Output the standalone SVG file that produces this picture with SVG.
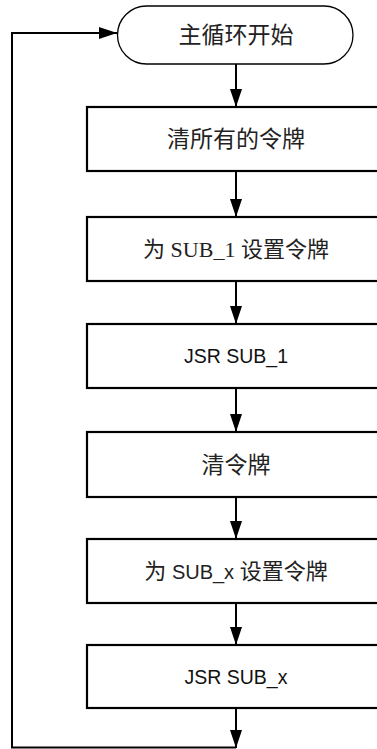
<svg xmlns="http://www.w3.org/2000/svg" width="377" height="749" viewBox="0 0 377 749">
<style>
.box{fill:#fff;stroke:#000;stroke-width:2.2}
.term{fill:#fff;stroke:#000;stroke-width:1.3}
.cjk{font-family:"Liberation Serif","Noto Sans CJK SC",serif;fill:#222;text-anchor:middle}
.lat{font-family:"Liberation Sans","Noto Sans CJK SC",sans-serif;fill:#111;text-anchor:middle}
.conn{fill:none;stroke:#000;stroke-width:2}
</style>
<defs>
<marker id="ah" viewBox="0 0 18 12" refX="18" refY="6" markerWidth="18" markerHeight="12" markerUnits="userSpaceOnUse" orient="auto">
<path d="M0,0 L18,6 L0,12 Z" fill="#000"/>
</marker>
</defs>
<rect width="377" height="749" fill="#fff"/>
<g id="connectors">
<line class="conn" x1="236" y1="64" x2="236" y2="107" marker-end="url(#ah)"/>
<line class="conn" x1="236" y1="171" x2="236" y2="217" marker-end="url(#ah)"/>
<line class="conn" x1="236" y1="281" x2="236" y2="324" marker-end="url(#ah)"/>
<line class="conn" x1="236" y1="388" x2="236" y2="432" marker-end="url(#ah)"/>
<line class="conn" x1="236" y1="497" x2="236" y2="539" marker-end="url(#ah)"/>
<line class="conn" x1="236" y1="603" x2="236" y2="645" marker-end="url(#ah)"/>
<line class="conn" x1="236" y1="708" x2="236" y2="748" marker-end="url(#ah)"/>
<path class="conn" d="M236,747.5 L12,747.5 L12,33 L117,33" marker-end="url(#ah)"/>
</g>
<g id="start">
<rect class="term" x="117.5" y="6" width="235.5" height="58" rx="29" ry="29"/>
<text class="cjk" x="236" y="43" font-size="23">主循环开始</text>
</g>
<g id="n1">
<rect class="box" x="87" y="107" width="298" height="64"/>
<text class="cjk" x="236" y="147" font-size="23">清所有的令牌</text>
</g>
<g id="n2">
<rect class="box" x="87" y="217" width="298" height="64"/>
<text class="cjk" x="236" y="257" font-size="22">为 SUB_1 设置令牌</text>
</g>
<g id="n3">
<rect class="box" x="87" y="324" width="298" height="64"/>
<text class="lat" x="236" y="363" font-size="19.5">JSR SUB_1</text>
</g>
<g id="n4">
<rect class="box" x="87" y="432" width="298" height="65"/>
<text class="cjk" x="236" y="473" font-size="23">清令牌</text>
</g>
<g id="n5">
<rect class="box" x="87" y="539" width="298" height="64"/>
<text class="cjk" x="236" y="579" font-size="22">为 <tspan font-family="Liberation Sans, sans-serif" font-size="20">SUB_x</tspan> 设置令牌</text>
</g>
<g id="n6">
<rect class="box" x="87" y="645" width="298" height="63"/>
<text class="lat" x="236" y="684" font-size="19.5">JSR SUB_x</text>
</g>
</svg>
